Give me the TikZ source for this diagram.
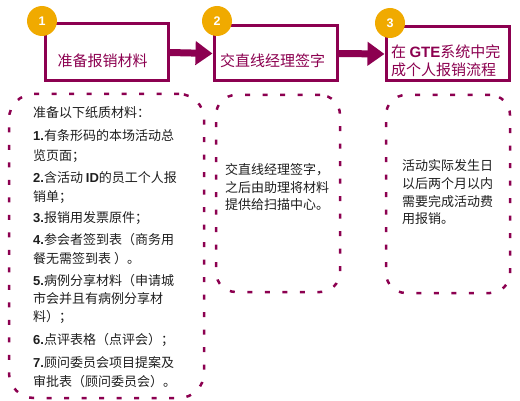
\documentclass[tikz,border=0pt]{standalone}
\usepackage{fontspec}
\setmainfont{Noto Sans CJK SC}
\newfontfamily\lat{Liberation Sans}
\usetikzlibrary{arrows.meta}
\definecolor{pur}{RGB}{140,0,80}
\definecolor{gold}{RGB}{240,170,0}
\definecolor{txt}{RGB}{30,30,30}
\newcommand{\bnum}[1]{{\lat\bfseries #1}}
\begin{document}
\begin{tikzpicture}[x=1pt,y=-1pt,
  titlebox/.style={draw=pur, line width=3pt, fill=white, minimum width=123pt, inner sep=0pt},
  numcirc/.style={circle, fill=gold, minimum size=30pt, inner sep=0pt, text=white, font=\lat\bfseries\fontsize{12.5}{12.5}\selectfont},
  titletext/.style={text=pur, font=\fontsize{15}{17}\selectfont, inner sep=0pt},
  dotbox/.style={draw=pur, line width=2.5pt, dash pattern=on 5pt off 12.5pt, rounded corners=20pt, inner sep=0pt},
  bodyline/.style={anchor=west, inner sep=0pt, text=txt, font=\fontsize{13}{15}\selectfont},
  flowarrow/.style={draw=pur, line width=7pt, -{Triangle[width=23pt,length=17pt]}}]
\useasboundingbox (0,0) rectangle (520,401);

% dotted boxes
\node[dotbox, minimum width=195pt, minimum height=304pt, rounded corners=25pt] (d1) at (106.5,246) {};
\node[dotbox, minimum width=124pt, minimum height=197pt] (d2) at (278,193.5) {};
\node[dotbox, minimum width=124pt, minimum height=198pt] (d3) at (448,194) {};

% title boxes
\node[titlebox, minimum height=57pt] (b1) at (106.5,52.5) {};
\node[titlebox, minimum height=55pt] (b2) at (275.5,53.5) {};
\node[titlebox, minimum height=54pt] (b3) at (447.5,54) {};

\node[titletext] (t1) at (102.5,61) {准备报销材料};
\node[titletext] (t2) at (272.5,61) {交直线经理签字};
\node[titletext, anchor=west] (t3a) at (391,52) {在 {\lat\bfseries GTE}系统中完};
\node[titletext, anchor=west] (t3b) at (391,70) {成个人报销流程};

% arrows
\draw[flowarrow] (b1.east) -- (b2.west);
\draw[flowarrow] (b2.east) -- (b3.west);

% number circles
\node[numcirc] (c1) at (42,21) {1};
\node[numcirc] (c2) at (217,21) {2};
\node[numcirc] (c3) at (390,23) {3};

% left box text
\node[bodyline] (l1) at (33,113) {准备以下纸质材料：};
\node[bodyline] (l2) at (33,136) {\bnum{1.}有条形码的本场活动总};
\node[bodyline] (l3) at (33,156) {览页面；};
\node[bodyline] (l4) at (33,178) {\bnum{2.}含活动 \bnum{ID}的员工个人报};
\node[bodyline] (l5) at (33,197) {销单；};
\node[bodyline] (l6) at (33,218) {\bnum{3.}报销用发票原件；};
\node[bodyline] (l7) at (33,240) {\bnum{4.}参会者签到表（商务用};
\node[bodyline] (l8) at (33,259) {餐无需签到表 ）。};
\node[bodyline] (l9) at (33,281) {\bnum{5.}病例分享材料（申请城};
\node[bodyline] (l10) at (33,299) {市会并且有病例分享材};
\node[bodyline] (l11) at (33,317) {料）；};
\node[bodyline] (l12) at (33,340) {\bnum{6.}点评表格（点评会）；};
\node[bodyline] (l13) at (33,363) {\bnum{7.}顾问委员会项目提案及};
\node[bodyline] (l14) at (33,382) {审批表（顾问委员会）。};

% middle box text
\node[bodyline] (m1) at (225,170) {交直线经理签字，};
\node[bodyline] (m2) at (225,188) {之后由助理将材料};
\node[bodyline] (m3) at (225,205) {提供给扫描中心。};

% right box text
\node[bodyline] (r1) at (402,166) {活动实际发生日};
\node[bodyline] (r2) at (402,184) {以后两个月以内};
\node[bodyline] (r3) at (402,202) {需要完成活动费};
\node[bodyline] (r4) at (402,219) {用报销。};
\end{tikzpicture}
\end{document}
